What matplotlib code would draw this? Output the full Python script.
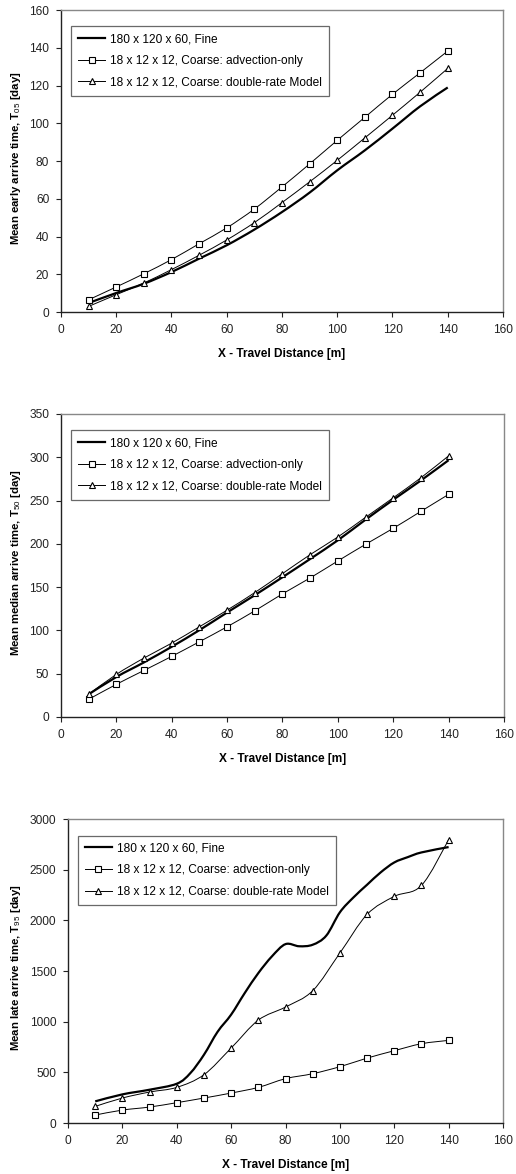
import matplotlib
matplotlib.use("Agg")
import matplotlib.pyplot as plt
from matplotlib.path import Path
from matplotlib.patches import PathPatch
from matplotlib.lines import Line2D
import numpy as np

plt.rcParams['font.family'] = ['Liberation Sans', 'DejaVu Sans']
plt.rcParams['mathtext.fontset'] = 'custom'
plt.rcParams['mathtext.rm'] = 'Liberation Sans'
plt.rcParams['mathtext.bf'] = 'Liberation Sans:bold'

# travel distance [m]
x = [10, 20, 30, 40, 50, 60, 70, 80, 90, 100, 110, 120, 130, 140]

# T05 - early arrival
t05_fine = [4.8, 10.1, 15.0, 21.2, 28.3, 35.4, 43.7, 53.0, 63.3, 75.1, 85.7, 97.2, 109.0, 119.0]
t05_adv = [6.5, 13.3, 20.3, 27.8, 36.2, 44.6, 54.6, 66.3, 78.5, 91.0, 103.2, 115.4, 126.8, 138.3]
t05_dr = [3.0, 9.2, 15.4, 22.5, 30.1, 38.2, 47.4, 58.0, 69.0, 80.4, 92.3, 104.3, 116.5, 129.1]

# T50 - median arrival
t50_fine = [26.2, 46.2, 63.1, 81.1, 100.3, 120.7, 140.7, 161.4, 182.5, 204.1, 227.9, 250.9, 273.2, 296.6]
t50_adv = [20.4, 37.7, 53.8, 70.0, 86.9, 104.2, 122.6, 142.2, 160.6, 180.2, 199.4, 217.9, 237.5, 257.1]
t50_dr = [26.2, 49.2, 68.1, 85.3, 104.2, 123.4, 143.7, 165.6, 187.5, 207.9, 230.6, 253.2, 276.3, 301.6]

# T95 - late arrival (fine run reported every 5 m)
x_fine95 = [10, 20, 30, 40, 45, 50, 55, 60, 65, 70, 75, 80, 85, 90, 95, 100,
            105, 110, 115, 120, 125, 130, 140]
t95_fine = [214, 283, 329, 388, 493, 674, 900, 1070, 1283, 1480, 1645, 1766, 1745, 1760,
            1850, 2080, 2227, 2352, 2474, 2572, 2625, 2671, 2724]
t95_adv = [79, 128, 158, 201, 247, 296, 352, 438, 487, 556, 641, 714, 783, 816]
t95_dr = [164, 247, 306, 352, 477, 740, 1016, 1145, 1306, 1678, 2059, 2237, 2345, 2796]

labels = ["180 x 120 x 60, Fine",
          "18 x 12 x 12, Coarse: advection-only",
          "18 x 12 x 12, Coarse: double-rate Model"]

FS = 8.6
MS = 4.6


def smooth_path(xs, ys):
    # Excel style smoothed line: cubic bezier with control points from neighbours
    p = np.column_stack([xs, ys]).astype(float)
    n = len(p)
    verts = [p[0]]
    codes = [Path.MOVETO]
    for i in range(n - 1):
        prev = p[i - 1] if i > 0 else p[i]
        nxt = p[i + 2] if i + 2 < n else p[i + 1]
        c1 = p[i] + (p[i + 1] - prev) / 6.0
        c2 = p[i + 1] - (nxt - p[i]) / 6.0
        verts += [c1, c2, p[i + 1]]
        codes += [Path.CURVE4] * 3
    return Path(verts, codes)


def draw_line(ax, xs, ys, lw, marker=None):
    ax.add_patch(PathPatch(smooth_path(xs, ys), fill=False, lw=lw,
                           edgecolor='black', zorder=2, capstyle='butt'))
    if marker:
        ax.plot(xs, ys, ls='none', marker=marker, ms=MS, mfc='white',
                mec='black', mew=0.8, zorder=3)


def panel(ax, fine_x, fine, adv, dr, ymax, ystep, ylabel, ylab_x):
    draw_line(ax, fine_x, fine, 1.6)
    draw_line(ax, x, adv, 0.7, 's')
    draw_line(ax, x, dr, 0.7, '^')
    ax.set_xlim(0, 160)
    ax.set_ylim(0, ymax)
    ax.set_xticks(range(0, 161, 20))
    ax.set_yticks(np.arange(0, ymax + 1, ystep))
    ax.tick_params(labelsize=FS, length=3.5, width=0.8, direction='out',
                   colors='#222222', pad=5)
    for s in ['left', 'bottom']:
        ax.spines[s].set_color('#222222')
        ax.spines[s].set_linewidth(1.0)
    for s in ['top', 'right']:
        ax.spines[s].set_color('#888888')
        ax.spines[s].set_linewidth(1.0)
    ax.set_xlabel("X - Travel Distance [m]", fontsize=FS, fontweight='bold',
                  labelpad=9)
    ax.set_ylabel(ylabel, fontsize=8.2, fontweight='bold')
    ax.yaxis.set_label_coords(ylab_x, 0.51)

    handles = [Line2D([], [], color='black', lw=1.6),
               Line2D([], [], color='black', lw=0.7, marker='s', ms=MS,
                      mfc='white', mec='black', mew=0.8),
               Line2D([], [], color='black', lw=0.7, marker='^', ms=MS,
                      mfc='white', mec='black', mew=0.8)]
    leg = ax.legend(handles, labels, loc='upper left', bbox_to_anchor=(0.022, 0.946),
                    borderaxespad=0, fontsize=FS, frameon=True, fancybox=False,
                    handlelength=2.3, handletextpad=0.4, labelspacing=0.8,
                    borderpad=0.6)
    leg.get_frame().set_edgecolor('#444444')
    leg.get_frame().set_linewidth(0.9)


fig = plt.figure(figsize=(5.16, 11.74), dpi=100)
ax1 = fig.add_axes([0.1182, 0.7342, 0.8566, 0.2572])
ax2 = fig.add_axes([0.1182, 0.3893, 0.8585, 0.2581])
ax3 = fig.add_axes([0.1318, 0.0434, 0.8430, 0.2589])

panel(ax1, x, t05_fine, t05_adv, t05_dr, 160, 20,
      r"Mean early arrive time, T$_{\mathrm{05}}$ [day]", -0.085)
panel(ax2, x, t50_fine, t50_adv, t50_dr, 350, 50,
      r"Mean median arrive time, T$_{\mathrm{50}}$ [day]", -0.085)
panel(ax3, x_fine95, t95_fine, t95_adv, t95_dr, 3000, 500,
      r"Mean late arrive time, T$_{\mathrm{95}}$ [day]", -0.103)

fig.savefig("out.png", dpi=100, facecolor='white')
